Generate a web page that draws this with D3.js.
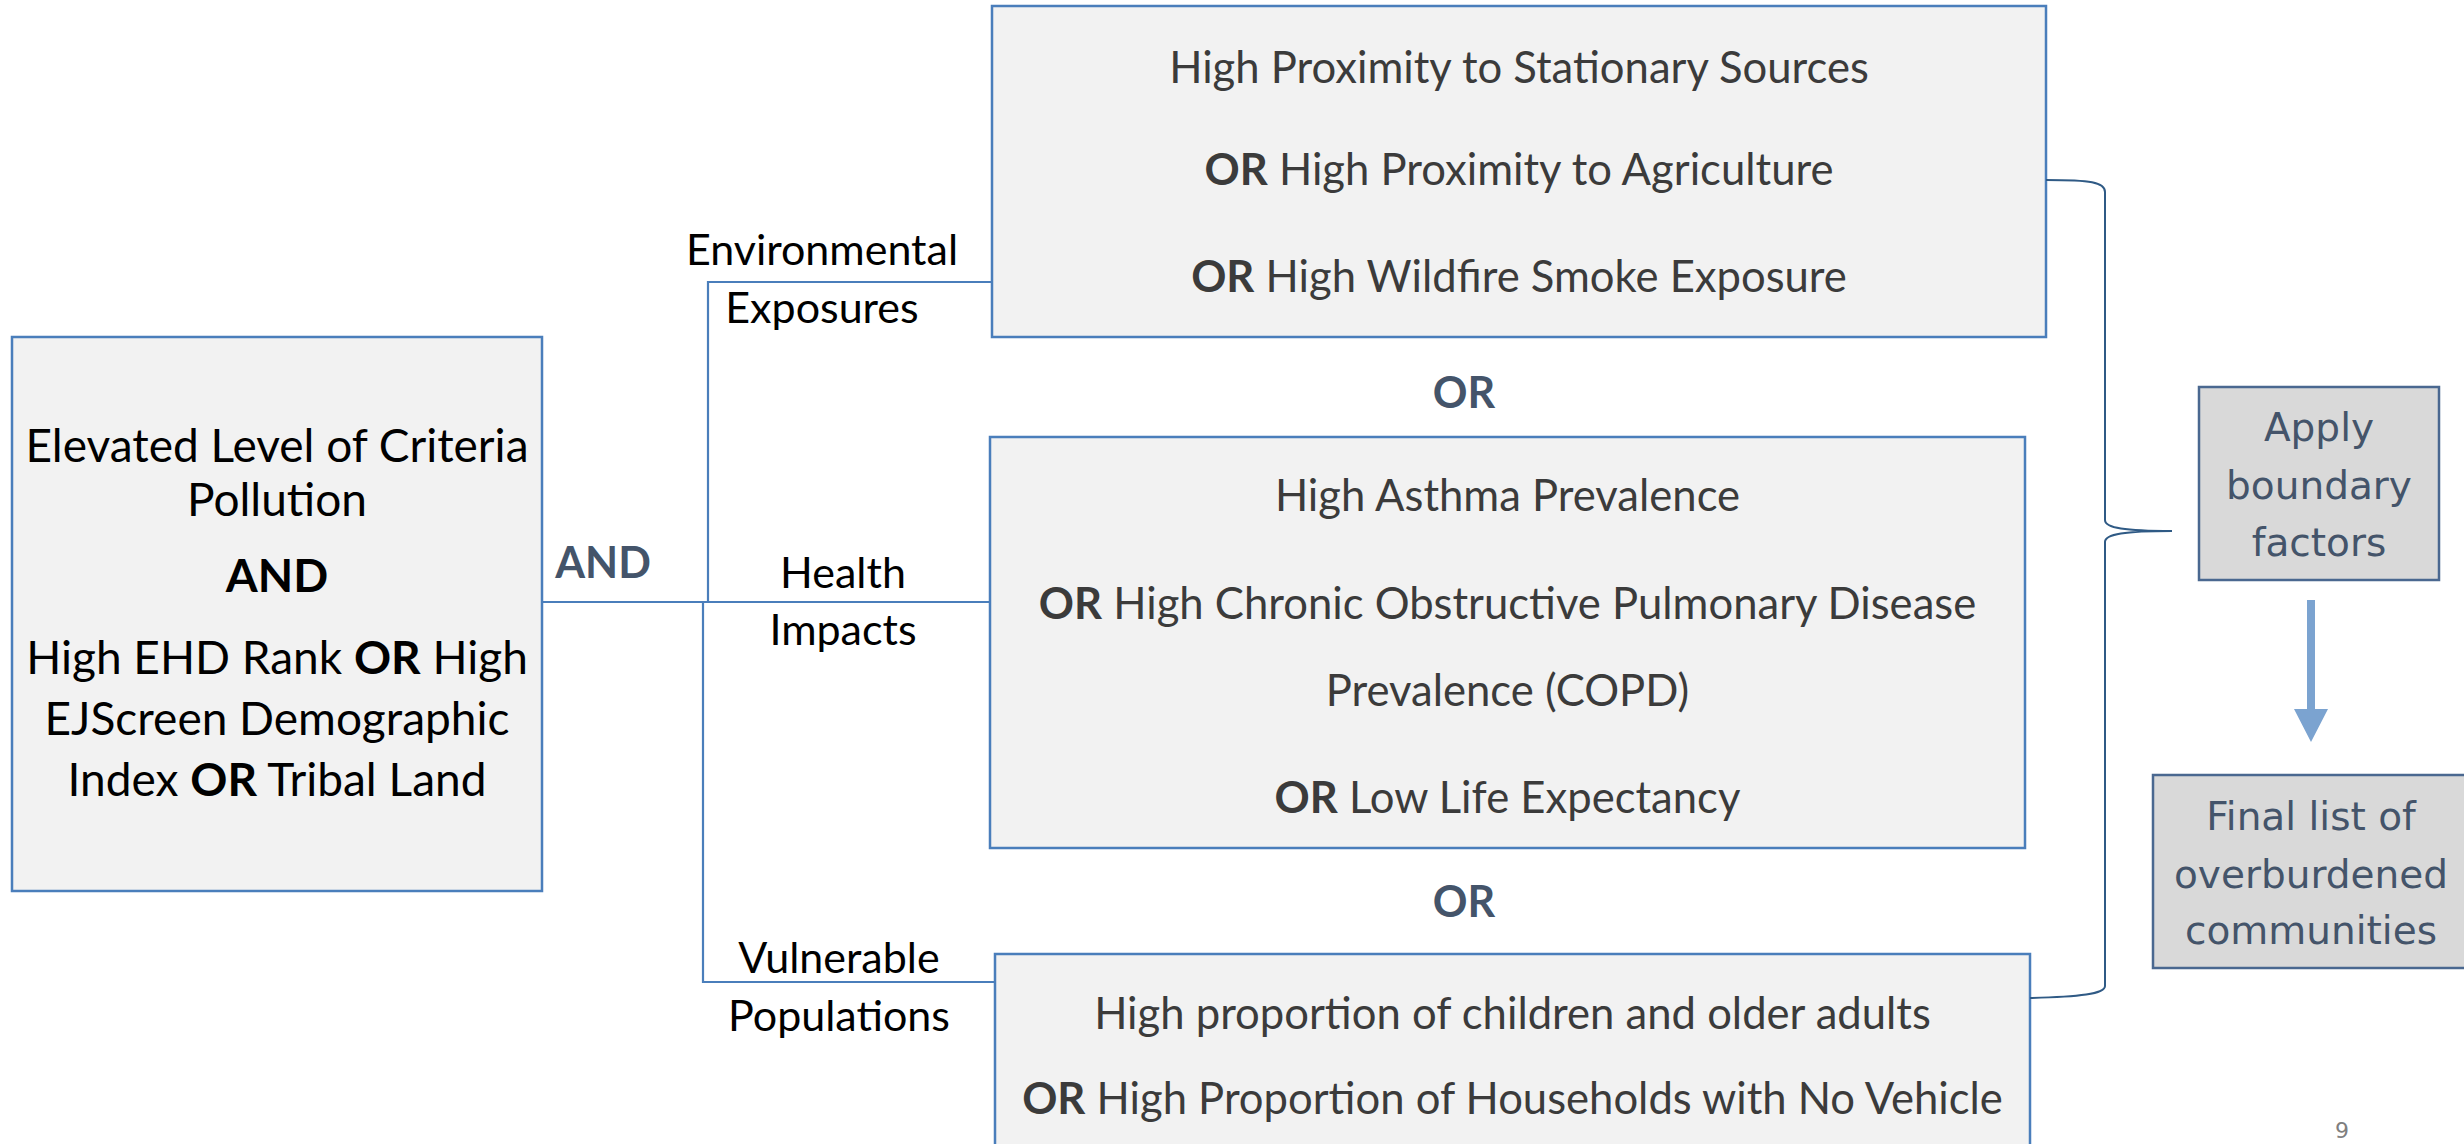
<!DOCTYPE html>
<meta charset="utf-8">
<style>
body { margin: 0; background: #fff; }
svg text { white-space: pre; }
.box { fill: #f2f2f2; stroke: #4a7ebb; stroke-width: 2.5; }
.grey { fill: #d9d9d9; stroke: #4a6890; stroke-width: 2.5; }
.link { fill: none; stroke: #4a7ebb; stroke-width: 2.2; }
.brace { fill: none; stroke: #2f5a85; stroke-width: 2; }
.label { font-family: Lato, "Noto Sans", sans-serif; }
</style>
<svg width="2464" height="1144"></svg>
<script src="https://cdn.jsdelivr.net/npm/d3@7/dist/d3.min.js"></script>
<script>

// texts of the flow chart
var criteriaLines = ["Elevated Level of Criteria", "Pollution", "AND",
                     "High EHD Rank OR High", "EJScreen Demographic", "Index OR Tribal Land"];
var exposureLines = ["High Proximity to Stationary Sources",
                     "OR High Proximity to Agriculture",
                     "OR High Wildfire Smoke Exposure"];
var healthLines = ["High Asthma Prevalence",
                   "OR High Chronic Obstructive Pulmonary Disease",
                   "Prevalence (COPD)",
                   "OR Low Life Expectancy"];
var vulnerableLines = ["High proportion of children and older adults",
                       "OR High Proportion of Households with No Vehicle"];
var branchLabels = [["Environmental", "Exposures"], ["Health", "Impacts"], ["Vulnerable", "Populations"]];
var boundaryLines = ["Apply", "boundary", "factors"];
var finalLines = ["Final list of", "overburdened", "communities"];
var joinWords = ["AND", "OR", "OR"];
var pageNumber = "9";

var svg = d3.select("svg");

// writes one line, making the words OR / AND bold
function writeLine(g, str, x, y, size, color) {
  var t = g.append("text")
      .attr("class", "label")
      .attr("x", x).attr("y", y)
      .attr("text-anchor", "middle")
      .attr("font-size", size)
      .attr("fill", color);
  str.split(/\b(OR|AND)\b/).forEach(function(part) {
    if (part === "") return;
    t.append("tspan")
      .attr("font-weight", (part === "OR" || part === "AND") ? 700 : 400)
      .text(part);
  });
}

// connectors (drawn first so boxes sit on top)
var jx = 543, jy = 602;
svg.append("line").attr("class", "link")
    .attr("x1", jx).attr("y1", jy).attr("x2", 705).attr("y2", jy)
    .attr("stroke-width", 4.5);
var line = d3.line();
svg.append("path").attr("class", "link").attr("d", line([[705, jy], [708, jy], [708, 282], [992, 282]]));
svg.append("path").attr("class", "link").attr("d", line([[705, jy], [990, jy]]));
svg.append("path").attr("class", "link").attr("d", line([[703, jy], [703, 982], [995, 982]]));

// left box
var left = svg.append("g");
left.append("rect").attr("class", "box")
    .attr("x", 12).attr("y", 337).attr("width", 530).attr("height", 554);
var leftBase = [462, 516, 592, 674, 735, 796];
criteriaLines.forEach(function(s, i) {
  writeLine(left, s, 277, leftBase[i], 46, "#000");
});

// three criteria boxes
var boxes = [
  {lines: exposureLines, x: 992, y: 6, w: 1054, h: 331, base: [83, 185, 292]},
  {lines: healthLines, x: 990, y: 437, w: 1035, h: 411, base: [511, 619, 706, 813]},
  {lines: vulnerableLines, x: 995, y: 954, w: 1035, h: 220, base: [1029, 1114]}
];
boxes.forEach(function(b) {
  var g = svg.append("g");
  g.append("rect").attr("class", "box")
      .attr("x", b.x).attr("y", b.y).attr("width", b.w).attr("height", b.h);
  b.lines.forEach(function(s, i) {
    writeLine(g, s, b.x + b.w / 2, b.base[i], 43.6, "#3b3b3b");
  });
});

// branch labels
var labelPos = [[822, 265, 323], [843, 588, 645], [839, 973, 1031]];
branchLabels.forEach(function(pair, i) {
  pair.forEach(function(s, j) {
    writeLine(svg, s, labelPos[i][0], labelPos[i][j + 1], 43, "#000");
  });
});

// AND / OR joiners
var joinPos = [[603, 578], [1464, 408], [1464, 917]];
joinWords.forEach(function(s, i) {
  svg.append("text").attr("class", "label")
      .attr("x", joinPos[i][0]).attr("y", joinPos[i][1])
      .attr("text-anchor", "middle")
      .attr("font-size", 43).attr("font-weight", 700)
      .attr("fill", "#44546a")
      .text(s);
});

// curly brace
var bx = 2105, tipX = 2172, tipY = 531;
svg.append("path").attr("class", "brace")
    .attr("d", "M2046,180 C2090,180 " + bx + ",182 " + bx + ",192" +
               " L" + bx + ",520 C" + bx + ",528 2125," + tipY + " " + tipX + "," + tipY +
               " C2125," + tipY + " " + bx + ",534 " + bx + ",542" +
               " L" + bx + ",986 C" + bx + ",994 2080,997 2030,998");

// right grey boxes
function greyBox(lines, x, y, w, h, base) {
  var g = svg.append("g");
  g.append("rect").attr("class", "grey")
      .attr("x", x).attr("y", y).attr("width", w).attr("height", h);
  lines.forEach(function(s, i) {
    g.append("text")
        .attr("x", x + w / 2).attr("y", base[i])
        .attr("text-anchor", "middle")
        .attr("font-family", "DejaVu Sans, Verdana, sans-serif")
        .attr("font-size", 39)
        .attr("fill", "#44546a")
        .text(s);
  });
}
greyBox(boundaryLines, 2199, 387, 240, 193, [441, 499, 556]);
greyBox(finalLines, 2153, 775, 316, 193, [830, 888, 944]);

// down arrow
svg.append("path")
    .attr("fill", "#7ba3d0")
    .attr("d", line([[2307, 600], [2315, 600], [2315, 709], [2328, 709], [2311, 742],
                     [2294, 709], [2307, 709]]) + "Z");

// page number
svg.append("text")
    .attr("x", 2342).attr("y", 1138)
    .attr("text-anchor", "middle")
    .attr("font-family", "DejaVu Sans, sans-serif")
    .attr("font-size", 22)
    .attr("fill", "#7f7f7f")
    .text(pageNumber);
</script>
